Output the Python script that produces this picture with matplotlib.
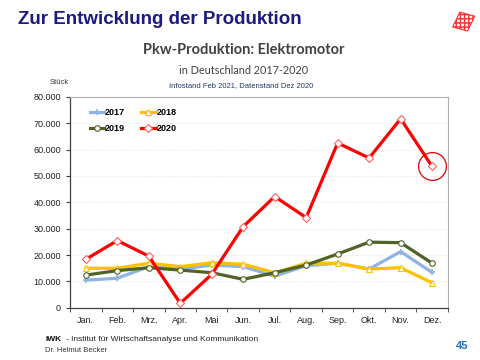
import matplotlib
matplotlib.use("Agg")
import matplotlib.pyplot as plt
import matplotlib.patches as mpatches
from matplotlib.ticker import FuncFormatter, MultipleLocator
import numpy as np

# Monatswerte (Stück)
months = ["Jan.", "Feb.", "Mrz.", "Apr.", "Mai", "Jun.", "Jul.", "Aug.", "Sep.", "Okt.", "Nov.", "Dez."]
y2017 = [10500, 11200, 15600, 14600, 16200, 15600, 12000, 16000, 16900, 14700, 21300, 13400]
y2018 = [15000, 15000, 16900, 15600, 17100, 16500, 13300, 16900, 16900, 14700, 15200, 9500]
y2019 = [12400, 14100, 15200, 14300, 13300, 10800, 13300, 16200, 20400, 24900, 24700, 16900]
y2020 = [18400, 25500, 19600, 1700, 12700, 30800, 42200, 34200, 62500, 56800, 71700, 53600]

plt.rcParams['font.family'] = ['Liberation Sans', 'DejaVu Sans']

fig = plt.figure(figsize=(4.8, 3.6), dpi=100)
ax = fig.add_axes([0.146, 0.145, 0.787, 0.586])

x = np.arange(len(months))
l17, = ax.plot(x, y2017, color='#8EB4E3', lw=2.3, marker='+', ms=5, mew=1.2, label='2017', zorder=3)
l18, = ax.plot(x, y2018, color='#FFC000', lw=2.3, marker='^', ms=4, mfc='white', mew=0.8, label='2018', zorder=3)
l19, = ax.plot(x, y2019, color='#4F6228', lw=2.3, marker='o', ms=4, mfc='white', mew=0.8, label='2019', zorder=3)
l20, = ax.plot(x, y2020, color='#FF0000', lw=2.3, marker='D', ms=4, mfc='white', mec='#FF6060', mew=0.8, label='2020', zorder=4)
# Kreis um den letzten Wert
ax.plot(x[-1], y2020[-1], marker='o', ms=20, mfc='none', mec='#E00000', mew=0.9, zorder=5)

ax.set_xlim(-0.5, 11.5)
ax.set_ylim(0, 80000)
ax.yaxis.set_major_locator(MultipleLocator(10000))
ax.yaxis.set_major_formatter(FuncFormatter(lambda v, p: f"{int(v):,}".replace(",", ".")))
ax.set_xticks(x)
ax.set_xticklabels(months)
ax.set_xticks(np.arange(-0.5, 12, 1), minor=True)
ax.tick_params(axis='x', which='major', length=0, pad=6, labelsize=6.5, colors='#222222')
ax.tick_params(axis='x', which='minor', length=3, color='#404040')
ax.tick_params(axis='y', length=3, labelsize=6.5, colors='#222222', color='#404040')
ax.grid(axis='y', color='#D8D8D8', lw=0.5, ls=':')
ax.set_axisbelow(True)
for s in ['top', 'right']:
    ax.spines[s].set_color('#B0B0B0')
    ax.spines[s].set_linewidth(0.8)
for s in ['left', 'bottom']:
    ax.spines[s].set_color('#404040')
    ax.spines[s].set_linewidth(0.9)

# Legende zeilenweise: 2017 2018 / 2019 2020
leg = ax.legend([l17, l19, l18, l20], ['2017', '2019', '2018', '2020'],
                loc='upper left', ncol=2, frameon=False, fontsize=6.5, handlelength=1.6,
                columnspacing=1.8, labelspacing=0.75, handletextpad=0.1,
                bbox_to_anchor=(0.03, 0.985))
for t in leg.get_texts():
    t.set_fontweight('bold')

# Texte
fig.text(0.038, 0.945, "Zur Entwicklung der Produktion", fontsize=13.5, fontweight='bold',
         color='#1A1A80', va='center')
fig.text(0.508, 0.862, "Pkw-Produktion: Elektromotor", fontsize=10.5, fontweight='bold',
         color='#404040', ha='center', va='center', family=['Lato', 'DejaVu Sans'])
fig.text(0.508, 0.805, "in Deutschland 2017-2020", fontsize=7.8,
         color='#404040', ha='center', va='center', family=['Lato', 'DejaVu Sans'])
fig.text(0.104, 0.772, "Stück", fontsize=5.5, color='#333333', va='center')
fig.text(0.502, 0.761, "Infostand Feb 2021, Datenstand Dez 2020", fontsize=5.5,
         color='#1F3864', ha='center', va='center')
fig.text(0.094, 0.056, "IWK", fontsize=6, fontweight='bold', color='#111111', va='center')
fig.text(0.137, 0.056, "- Institut für Wirtschaftsanalyse und Kommunikation", fontsize=6,
         color='#222222', va='center')
fig.text(0.094, 0.025, "Dr. Helmut Becker", fontsize=5.5, color='#333333', va='center')
fig.text(0.950, 0.040, "45", fontsize=8, fontweight='bold', color='#1F6FBF', va='center')

# Logo oben rechts
logo = mpatches.Rectangle((0.943, 0.925), 0.033, 0.044, angle=-20, facecolor='white',
                          edgecolor='#FF3030', hatch='++++', lw=0.8, transform=fig.transFigure)
fig.patches.append(logo)

fig.savefig("out.png", dpi=100)
